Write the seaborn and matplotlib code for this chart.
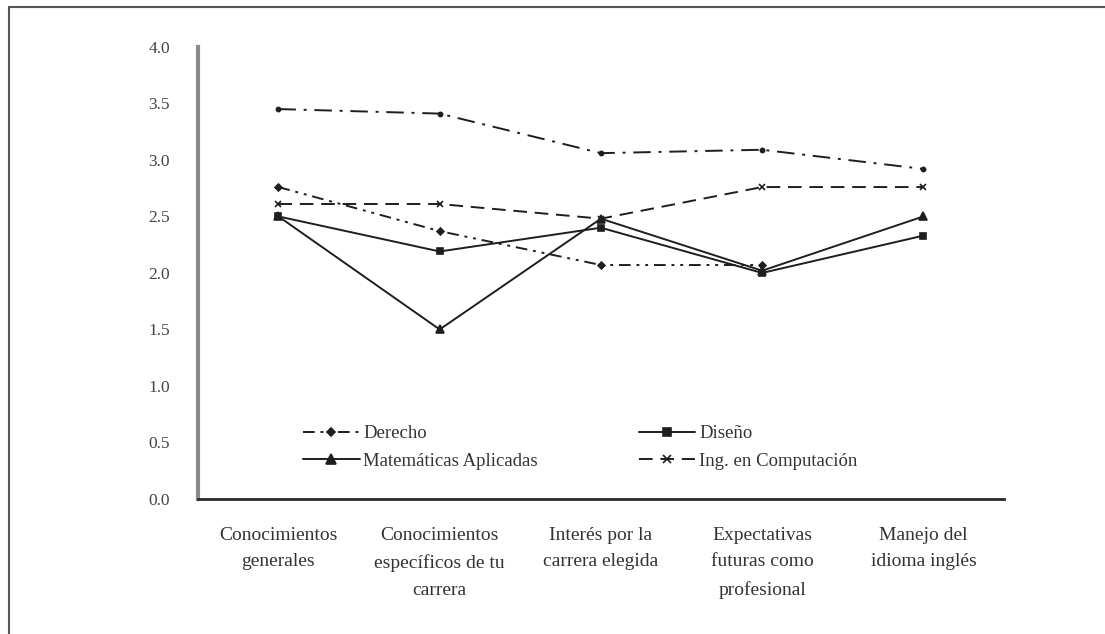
import numpy as np
import pandas as pd
import seaborn as sns
import matplotlib.pyplot as plt
from matplotlib.lines import Line2D

# Values
categories = ["Conocimientos\ngenerales",
              "Conocimientos\nespecíficos de tu\ncarrera",
              "Interés por la\ncarrera elegida",
              "Expectativas\nfuturas como\nprofesional",
              "Manejo del\nidioma inglés"]
derecho = [2.76, 2.37, 2.07, 2.07, np.nan]
diseno = [2.50, 2.19, 2.40, 2.00, 2.33]
matematicas = [2.50, 1.50, 2.48, 2.02, 2.50]
computacion = [2.61, 2.61, 2.48, 2.76, 2.76]
sin_etiqueta = [3.45, 3.41, 3.06, 3.09, 2.92]

series_names = ["Derecho", "Diseño", "Matemáticas Aplicadas", "Ing. en Computación", "_nolegend_"]
series_values = [derecho, diseno, matematicas, computacion, sin_etiqueta]

rows = []
for name, vals in zip(series_names, series_values):
    for i, v in enumerate(vals):
        rows.append({"serie": name, "pos": i, "valor": v})
df = pd.DataFrame(rows)

sns.set_style("white")
plt.rcParams['font.family'] = ['Liberation Serif', 'DejaVu Serif']

ink = "#1e1e1e"
estilos = {
    "Derecho": dict(ls=(0, (6, 3, 1.5, 3, 1.5, 3)), marker="D", ms=3.5),
    "Diseño": dict(ls="-", marker="s", ms=5),
    "Matemáticas Aplicadas": dict(ls="-", marker="^", ms=5.5),
    "Ing. en Computación": dict(ls=(0, (7, 4)), marker="x", ms=4.5),
    "_nolegend_": dict(ls=(0, (9, 4, 1.5, 4)), marker="o", ms=3),
}

fig = plt.figure(figsize=(11.05, 6.34), dpi=100)
ax = fig.add_axes([0.179, 0.213, 0.7296, 0.713])

handles = {}
for name in series_names:
    st = estilos[name]
    sub = df[df["serie"] == name].dropna()
    sns.lineplot(data=sub, x="pos", y="valor", ax=ax, color=ink, lw=1.4,
                 linestyle=st["ls"], marker=st["marker"], markersize=st["ms"],
                 markeredgecolor=ink, markerfacecolor=ink, markeredgewidth=1.2,
                 legend=False)
    if name != "_nolegend_":
        handles[name] = Line2D([], [], color=ink, lw=1.4, linestyle=st["ls"],
                               marker=st["marker"], markersize=st["ms"] + 1,
                               markeredgecolor=ink, markerfacecolor=ink,
                               markeredgewidth=1.2, label=name)

ax.set_xlim(-0.5, 4.5)
ax.set_ylim(0, 4)
ax.set_yticks(np.arange(0, 4.01, 0.5))
ax.set_yticklabels([f"{v:.1f}" for v in np.arange(0, 4.01, 0.5)])
ax.set_xticks(np.arange(-0.5, 4.6, 1.0))
ax.set_xticklabels([])
ax.set_xticks(np.arange(len(categories)), minor=True)
ax.set_xticklabels(categories, minor=True)
ax.tick_params(axis="x", which="minor", length=0, pad=20, labelsize=14, labelcolor="#333333")
ax.tick_params(axis="x", which="major", length=6, width=1.5, color="#333333", direction="out")
ax.tick_params(axis="y", length=6, width=1.5, color="#333333", direction="out", labelsize=12.5,
               labelcolor="#444444", pad=14)
for lab in ax.get_xticklabels(minor=True):
    lab.set_linespacing(1.75)

ax.set_xlabel("")
ax.set_ylabel("")
sns.despine(ax=ax, top=True, right=True)
ax.spines["left"].set_color("#8a8a8a")
ax.spines["left"].set_linewidth(3)
ax.spines["bottom"].set_color("#2a2a2a")
ax.spines["bottom"].set_linewidth(2)

# legend filled column-wise, so order gives rows Derecho/Diseño, Matemáticas/Ing.
orden = ["Derecho", "Matemáticas Aplicadas", "Diseño", "Ing. en Computación"]
leg = ax.legend(handles=[handles[n] for n in orden], ncol=2, frameon=False, loc="lower left",
                bbox_to_anchor=(0.11, 0.027), fontsize=13.5, handlelength=3.0,
                handletextpad=0.2, columnspacing=5.4, labelspacing=0.55,
                labelcolor="#333333")

# thin frame around the chart area (top and left edges)
fig.add_artist(Line2D([9 / 1105, 1.0], [1 - 7 / 634, 1 - 7 / 634], color="#555555", lw=1.5))
fig.add_artist(Line2D([9 / 1105, 9 / 1105], [0, 1 - 7 / 634], color="#555555", lw=1.5))

fig.savefig("out.png", dpi=100, facecolor="white")
